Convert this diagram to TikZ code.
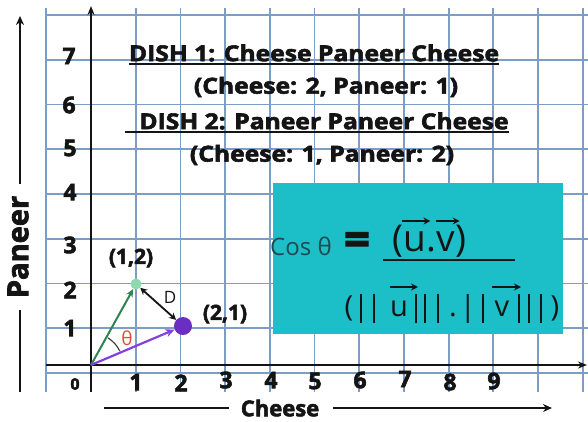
\documentclass[tikz,border=0pt]{standalone}
\usepackage{fontspec}
\setmainfont{Open Sans}[BoldFeatures={FakeBold=2.5}]
\usetikzlibrary{arrows.meta}
\definecolor{gridblue}{HTML}{7B9DC6}
\definecolor{tealbox}{HTML}{1CBEC8}
\definecolor{costxt}{HTML}{1E4A52}
\definecolor{vgreen}{HTML}{2E8450}
\definecolor{dgreen}{HTML}{8ED9AE}
\definecolor{vpurple}{HTML}{8440E0}
\definecolor{dpurple}{HTML}{6A2EC2}
\definecolor{thred}{HTML}{E5483A}
\definecolor{ink}{HTML}{141414}
\newcommand\wide[1]{\scalebox{1.12}[1]{#1}}
\begin{document}
\begin{tikzpicture}[x=1pt,y=-1pt,
  gridline/.style={gridblue,line width=1.8pt},
  axisline/.style={ink,line width=2pt,-{Stealth[length=9pt,width=7pt]}},
  labline/.style={ink,line width=2pt},
  title/.style={ink,font=\fontsize{22}{24}\bfseries\selectfont,inner sep=0pt},
  uline/.style={ink,line width=1.6pt},
  num/.style={ink,font=\fontsize{23}{25}\bfseries\selectfont,inner sep=0pt},
  ptlabel/.style={ink,font=\fontsize{21}{23}\bfseries\selectfont,inner sep=0pt},
  fpart/.style={ink,inner sep=0pt,anchor=base west},
  dpart/.style={ink,inner sep=0pt,anchor=base,font=\fontsize{29}{31}\selectfont},
  vecarr/.style={ink,line width=2pt,-{Stealth[length=7pt,width=7pt]}},
]
\useasboundingbox (0,0) rectangle (588,421);
\fill[white] (0,0) rectangle (588,421);
% grid
\foreach \k in {-1,...,11} \draw[gridline] ({91+44.7*\k},8) -- ({91+44.7*\k},392);
\foreach \k in {0,...,8} \draw[gridline] (46,{373-44.75*\k}) -- (588,{373-44.75*\k});
% axes
\coordinate (O) at (91,365);
\coordinate (ytop) at (91,6);
\coordinate (ybot) at (91,392);
\coordinate (xl) at (46,365);
\coordinate (xr) at (587,365);
\draw[axisline] (ybot) -- (ytop);
\draw[axisline] (xl) -- (xr);
% teal box
\node[fill=tealbox,minimum width=290pt,minimum height=151pt,anchor=north west,inner sep=0pt] (box) at (273,183) {};
% titles
\node[title] (t1) at (314,53) {\wide{DISH 1: Cheese Paneer Cheese}};
\draw[uline] ([yshift=-3pt]t1.base west) -- ([yshift=-3pt]t1.base east);
\node[title] (t2) at (326,87) {\wide{(Cheese: 2, Paneer: 1)}};
\node[title] (t3) at (324,121) {\wide{DISH 2: Paneer Paneer Cheese}};
\draw[uline] ([yshift=-3pt,xshift=-14pt]t3.base west) -- ([yshift=-3pt]t3.base east);
\node[title] (t4) at (322,155) {\wide{(Cheese: 1, Paneer: 2)}};
% y numbers
\node[num] (y7) at (69,56) {7};
\node[num] (y6) at (69,105) {6};
\node[num] (y5) at (70,148) {5};
\node[num] (y4) at (70,192) {4};
\node[num] (y3) at (70,245) {3};
\node[num] (y2) at (70,290) {2};
\node[num] (y1) at (70,328) {1};
% x numbers
\node[ink,font=\fontsize{16}{18}\bfseries\selectfont,inner sep=0pt] (x0) at (75,384) {0};
\node[num] (x1) at (136,382) {1};
\node[num] (x2) at (181,383) {2};
\node[num] (x3) at (226,380) {3};
\node[num] (x4) at (271,380) {4};
\node[num] (x5) at (315,381) {5};
\node[num] (x6) at (360,380) {6};
\node[num] (x7) at (405,379) {7};
\node[num] (x8) at (450,382) {8};
\node[num] (x9) at (494,381) {9};
% axis titles
\node[ink,font=\fontsize{22}{24}\bfseries\selectfont,inner sep=0pt] (chz) at (280,408) {Cheese};
\draw[labline] ([xshift=-12pt]chz.west) -- ++(-125,0);
\draw[labline,-{Stealth[length=9pt,width=8pt]}] ([xshift=14pt]chz.east) -- (552,408);
\node[ink,font=\fontsize{29}{30}\bfseries\selectfont,inner sep=0pt,rotate=90] (pan) at (18,247) {Paneer};
\draw[labline,-{Stealth[length=9pt,width=8pt]}] ([xshift=2pt,yshift=12pt]pan.east) -- (20,16);
\draw[labline] ([xshift=2pt,yshift=-12pt]pan.west) -- (20,392);
% vectors
\node[circle,fill=dpurple,minimum size=18pt,inner sep=0pt] (p) at (183,326) {};
\node[circle,fill=dgreen,minimum size=11pt,inner sep=0pt] (g) at (136,284) {};
\draw[vgreen,line width=2pt,-{Stealth[length=8pt,width=7pt]}] (O) -- (g);
\draw[vpurple,line width=2.2pt,-{Stealth[length=9pt,width=8pt]}] (O) -- (p);
\draw[ink,line width=1.8pt,{Stealth[length=7pt,width=7pt]}-{Stealth[length=7pt,width=7pt]}] (g) -- (p);
\node[ink,font=\fontsize{17}{19}\selectfont,inner sep=0pt] (dl) at (170,297) {D};
\draw[ink!80,line width=1.2pt] (O) ++(-26:32) arc[start angle=-26,end angle=-58,radius=32];
\node[thred,font=\fontsize{19}{21}\selectfont,inner sep=0pt] (th) at (127,338) {θ};
\node[ptlabel] (l12) at (131,258) {(1,2)};
\node[ptlabel] (l21) at (225,314) {(2,1)};
% formula
\node[costxt,font=\fontsize{24}{26}\selectfont,inner sep=0pt] (cos) at (301,246) {Cos θ};
\node[ink,font=\fontsize{46}{46}\bfseries\selectfont,inner sep=0pt] (eq) at (357,244) {=};
\begin{scope}[every node/.append style={font=\fontsize{37}{39}\selectfont}]
\node[fpart] (n1) at (392,251) {(};
\node[fpart] (nu) at (n1.base east) {u};
\node[fpart] (nd) at (nu.base east) {.};
\node[fpart] (nv) at (nd.base east) {v};
\node[fpart] (n2) at (nv.base east) {)};
\end{scope}
\draw[vecarr] ([yshift=10pt,xshift=-1pt]nu.north west) -- ([yshift=10pt,xshift=4pt]nu.north east);
\draw[vecarr] ([yshift=10pt,xshift=-1pt]nv.north west) -- ([yshift=10pt,xshift=4pt]nv.north east);
\coordinate (fl) at (383,260);
\coordinate (fr) at (515,260);
\draw[ink,line width=2.5pt] (fl) -- (fr);
% denominator
\node[dpart] (dL) at (349,316) {\makebox[5pt]{(}};
\node[dpart] (dR) at (555,316) {\makebox[5pt]{)}};
\node[dpart] (du) at (399,316) {u};
\node[dpart] (dd) at (453,316) {\makebox[32pt]{|\kern3pt.\kern3pt|}};
\node[dpart] (dv) at (502,316) {v};
\foreach \bx [count=\i] in {361,374,416,425,483,519,529,541}
  \node[dpart] (bar\i) at (\bx,316) {\makebox[2pt]{|}};
\coordinate (ua) at (390,287);
\coordinate (ub) at (418,287);
\coordinate (va) at (492,287);
\coordinate (vb) at (521,287);
\draw[vecarr] (ua) -- (ub);
\draw[vecarr] (va) -- (vb);
\end{tikzpicture}
\end{document}
